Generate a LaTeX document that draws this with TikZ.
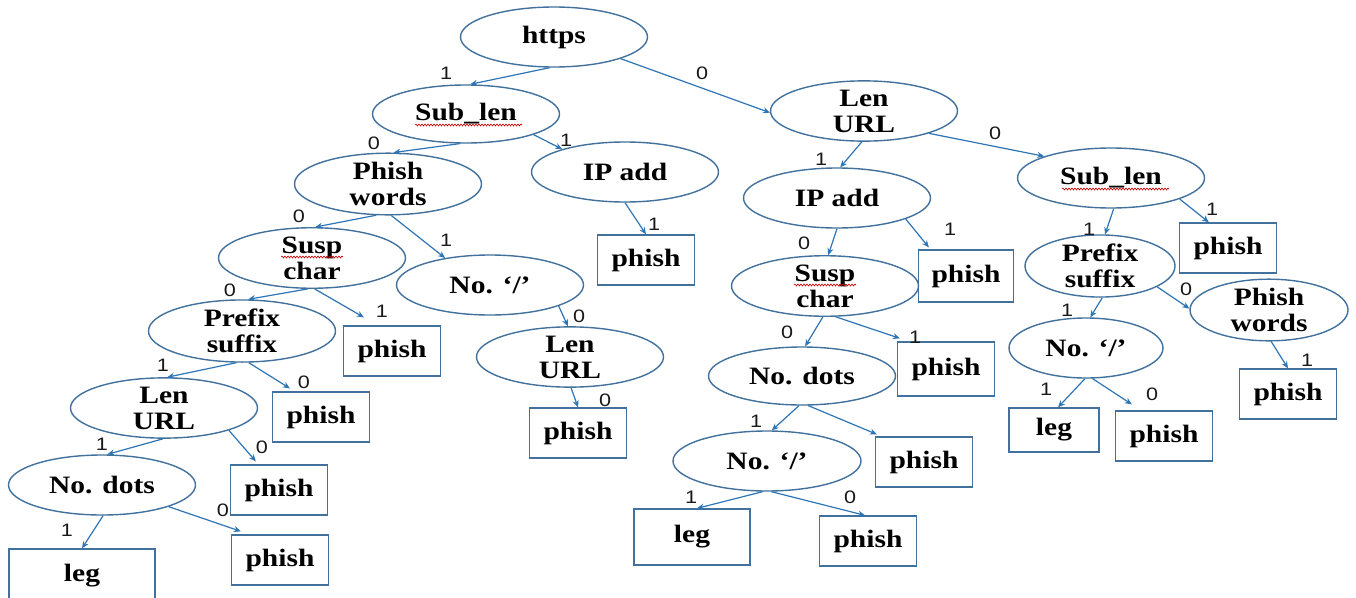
\documentclass[tikz,border=0pt]{standalone}
\usepackage{fontspec}
\setmainfont{Liberation Serif}[FakeStretch=1.18]
\newfontfamily\lblfont{Liberation Sans}[FakeStretch=1.2]
\usetikzlibrary{shapes.geometric,arrows.meta,calc,decorations.pathmorphing}
\definecolor{ecol}{HTML}{41719C}
\definecolor{acol}{HTML}{2E75B6}
\newcommand\nodefont{\bfseries\fontsize{25}{26}\selectfont}
\begin{document}
\begin{tikzpicture}[x=1pt,y=-1pt,
  ell/.style={ellipse,draw=ecol,line width=1.4pt,inner sep=0pt,align=center,font=\nodefont,minimum width=187pt,minimum height=60pt},
  leaf/.style={rectangle,draw=ecol,line width=1.3pt,inner sep=0pt,font=\nodefont,minimum width=97pt,minimum height=50pt},
  conn/.style={draw=acol,line width=1.2pt,-{Stealth[length=7pt,width=6pt]}},
  lab/.style={font=\lblfont\fontsize{18}{18}\selectfont,text=black!90,inner sep=0pt},
  squig/.style={draw=red!80!black,line width=0.6pt,decorate,decoration={snake,amplitude=1pt,segment length=3pt}}
]
\useasboundingbox[fill=white] (0,0) rectangle (1356,597);

% ellipses
\node[ell] (https) at (554,37) {https};
\node[ell,minimum height=58pt] (subL) at (466,114) {Sub\_len};
\node[ell] (lenT) at (864,111) {Len\\URL};
\node[ell] (pwL) at (388,184) {Phish\\words};
\node[ell] (ipL) at (625,172) {IP add};
\node[ell] (ipM) at (837,198) {IP add};
\node[ell] (subR) at (1111,178) {Sub\_len};
\node[ell] (scL) at (312,258) {Susp\\char};
\node[ell] (noL) at (490,285) {No. ‘/’};
\node[ell] (scM) at (825,286) {Susp\\char};
\node[ell,minimum width=150pt,minimum height=62pt] (psR) at (1100,266) {Prefix\\suffix};
\node[ell,minimum width=158pt] (pwR) at (1269,310) {Phish\\words};
\node[ell] (psL) at (242,331) {Prefix\\suffix};
\node[ell] (lenM) at (570,357) {Len\\URL};
\node[ell,minimum height=58pt] (ndM) at (802,376) {No. dots};
\node[ell,minimum width=154pt] (noR) at (1086,348) {No. ‘/’};
\node[ell] (lenL) at (164,408) {Len\\URL};
\node[ell] (ndL) at (102,485) {No. dots};
\node[ell,minimum width=188pt] (noM) at (767,461) {No. ‘/’};

% leaves
\node[leaf] (bIPL) at (646,260) {phish};
\node[leaf,minimum width=95pt,minimum height=52pt] (bIPM) at (966,276) {phish};
\node[leaf] (bSubR) at (1228,248) {phish};
\node[leaf] (bScL) at (392,351) {phish};
\node[leaf,minimum height=54pt] (bScM) at (946,369) {phish};
\node[leaf] (bPwR) at (1288,394) {phish};
\node[leaf] (bPsL) at (321,417) {phish};
\node[leaf] (bLenM) at (578,433) {phish};
\node[leaf,minimum width=90pt,minimum height=44pt] (lR) at (1054,430) {leg};
\node[leaf] (pR) at (1164,436) {phish};
\node[leaf] (bLenL) at (279,490) {phish};
\node[leaf] (bNdM) at (924,462) {phish};
\node[leaf,minimum width=146pt,minimum height=54pt] (legL) at (82,576) {leg};
\node[leaf] (bNdL) at (280,560) {phish};
\node[leaf,minimum width=116pt,minimum height=56pt] (legM) at (692,537) {leg};
\node[leaf] (pM) at (868,541) {phish};

% spell-check squiggles
\draw[squig] ($(subL.center)+(-51,11)$) -- ++(107,0);
\draw[squig] ($(subR.center)+(-49,11)$) -- ++(107,0);
\draw[squig] ($(scL.center)+(-31,-1)$) -- ++(62,0);
\draw[squig] ($(scM.center)+(-31,-1)$) -- ++(62,0);

% connectors
\draw[conn] (https.262) -- (subL.82);
\draw[conn] (https.342) -- (lenT.181);
\draw[conn] (subL.258) -- (pwL.80);
\draw[conn] (subL.343) -- (ipL.160);
\draw[conn] (pwL.249) -- (scL.84);
\draw[conn] (pwL.276) -- (noL.149);
\draw[conn] (ipL.270) -- (bIPL.north);
\draw[conn] (scL.262) -- (psL.79);
\draw[conn] (scL.275) -- ($(bScL.north west)+(21,-8)$);
\draw[conn] (noL.343) -- (lenM.94);
\draw[conn] (psL.260) -- (lenL.84);
\draw[conn] (psL.282) -- ($(bPsL.north west)+(18,-3)$);
\draw[conn] (lenM.272) -- (bLenM.north);
\draw[conn] (lenL.268) -- (ndL.80);
\draw[conn] (lenL.341) -- ($(bLenL.north west)+(26,-3)$);
\draw[conn] (ndL.272) -- (legL.north);
\draw[conn] (ndL.342) -- ($(bNdL.north west)+(10,-3)$);
\draw[conn] (lenT.266) -- (ipM.84);
\draw[conn] (lenT.341) -- (subR.162);
\draw[conn] (ipM.270) -- (scM.84);
\draw[conn] (ipM.343) -- ($(bIPM.north west)+(11,-2)$);
\draw[conn] (subR.275) -- (psR.81);
\draw[conn] (subR.343) -- ($(bSubR.north west)+(30,0)$);
\draw[conn] (scM.266) -- (ndM.84);
\draw[conn] (scM.289) -- ($(bScM.north west)+(3,-3)$);
\draw[conn] (psR.274) -- (noR.82);
\draw[conn] (psR.340) -- (pwR.179);
\draw[conn] (pwR.274) -- (bPwR.north);
\draw[conn] (ndM.264) -- (noM.81);
\draw[conn] (ndM.282) -- ($(bNdM.north west)+(2,-2)$);
\draw[conn] (noR.268) -- ($(lR.north)+(4,0)$);
\draw[conn] (noR.282) -- ($(pR.north west)+(17,-6)$);
\draw[conn] (noM.262) -- ($(legM.north)+(5,0)$);
\draw[conn] (noM.278) -- ($(pM.north)+(-3,0)$);

% labels
\node[lab] (t1) at (446,73) {1};
\node[lab] (t2) at (702,73) {0};
\node[lab] (t3) at (374,143) {0};
\node[lab] (t4) at (566,140) {1};
\node[lab] (t5) at (299,216) {0};
\node[lab] (t6) at (446,240) {1};
\node[lab] (t7) at (654,224) {1};
\node[lab] (t8) at (230,290) {0};
\node[lab] (t9) at (382,311) {1};
\node[lab] (t10) at (579,316) {0};
\node[lab] (t11) at (163,365) {1};
\node[lab] (t12) at (304,382) {0};
\node[lab] (t13) at (605,400) {0};
\node[lab] (t14) at (102,444) {1};
\node[lab] (t15) at (262,447) {0};
\node[lab] (t16) at (67,530) {1};
\node[lab] (t17) at (223,510) {0};
\node[lab] (t18) at (821,159) {1};
\node[lab] (t19) at (995,133) {0};
\node[lab] (t20) at (804,243) {0};
\node[lab] (t21) at (950,229) {1};
\node[lab] (t22) at (1089,229) {1};
\node[lab] (t23) at (1212,209) {1};
\node[lab] (t24) at (787,332) {0};
\node[lab] (t25) at (915,337) {1};
\node[lab] (t26) at (1067,310) {1};
\node[lab] (t27) at (1186,289) {0};
\node[lab] (t28) at (1307,360) {1};
\node[lab] (t29) at (756,421) {1};
\node[lab] (t31) at (1046,389) {1};
\node[lab] (t32) at (1152,394) {0};
\node[lab] (t33) at (691,497) {1};
\node[lab] (t34) at (850,497) {0};
\end{tikzpicture}
\end{document}
